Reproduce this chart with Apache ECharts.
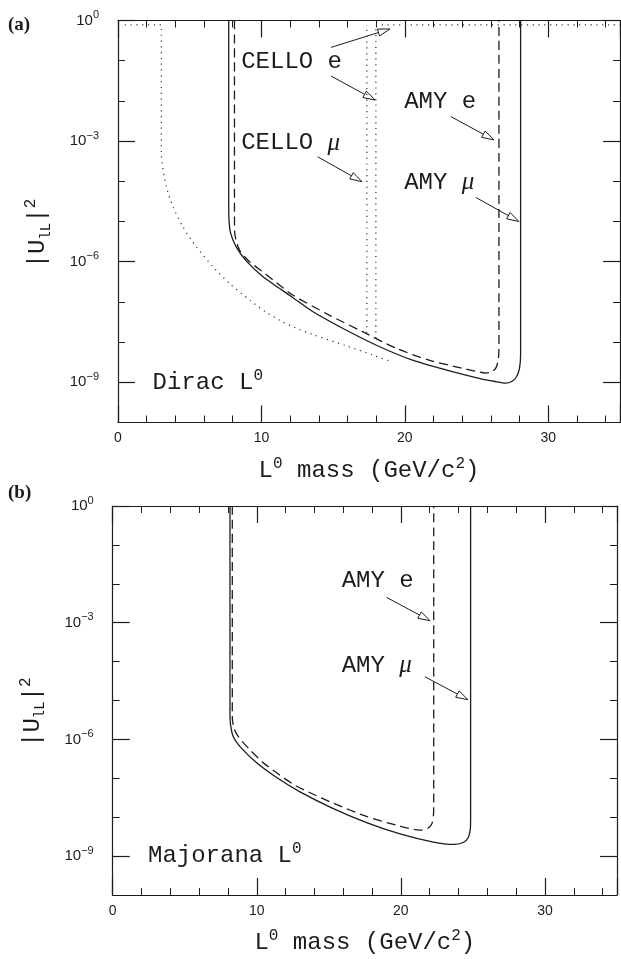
<!DOCTYPE html>
<html>
<head>
<meta charset="utf-8">
<title>L0 mixing limits</title>
<script src="https://cdn.jsdelivr.net/npm/echarts@6/dist/echarts.min.js"></script>
<style>
  html, body { margin: 0; padding: 0; background: #fff; }
  #chart { width: 621px; height: 959px; }
</style>
</head>
<body>
<div id="chart"></div>
<script>
// x: L0 mass (GeV/c^2), y: log10 |U_lL|^2
const xTicks = [0, 10, 20, 30];
const yTickExps = [0, -3, -6, -9];

// (a) Dirac L0
const diracAmyMu = [
  [7.72, 0], [7.72, -4.6], [7.74, -4.96], [7.85, -5.29], [8.24, -5.63], [8.94, -5.98],
  [10.09, -6.37], [11.25, -6.66], [12.18, -6.89], [13.57, -7.24], [15.89, -7.70],
  [18.21, -8.11], [20.53, -8.45], [22.85, -8.69], [25.17, -8.90], [26.3, -8.98],
  [27.03, -9.02], [27.45, -8.98], [27.75, -8.88], [27.98, -8.68], [28.07, -8.3], [28.07, 0]
];
const diracAmyE = [
  [8.12, 0], [8.12, -4.9], [8.14, -5.29], [8.47, -5.71], [9.17, -6.0], [10.2, -6.28],
  [11.25, -6.58], [12.18, -6.83], [14.73, -7.33], [17.05, -7.74], [19.37, -8.15],
  [21.69, -8.45], [24.01, -8.65], [25.1, -8.74], [25.64, -8.77], [26.05, -8.74],
  [26.35, -8.64], [26.51, -8.45], [26.56, -8.1], [26.56, 0]
];
const diracCelloLow = [
  [0.47, -0.11], [3.02, -0.11], [3.02, -3.3], [3.37, -4.13], [3.83, -4.63], [4.52, -5.13],
  [5.46, -5.63], [6.61, -6.12], [7.77, -6.54], [9.17, -6.95], [10.33, -7.26], [11.5, -7.50],
  [12.6, -7.68], [13.57, -7.81], [15.89, -8.09], [17.75, -8.32], [19.03, -8.49]
];
const diracCelloE = [[17.98, -7.9], [17.98, -0.11], [35, -0.11]];
const diracCelloMu = [[17.35, -7.77], [17.35, -0.11]];

// (b) Majorana L0
const majoranaAmyMu = [
  [8.14, 0], [8.14, -5.3], [8.18, -5.62], [8.37, -5.93], [8.95, -6.23], [9.99, -6.6],
  [11.38, -6.98], [13.0, -7.35], [15.2, -7.76], [17.62, -8.14], [19.94, -8.43],
  [22.25, -8.64], [23.64, -8.7], [24.33, -8.65], [24.68, -8.52], [24.82, -8.3],
  [24.84, -8.0], [24.84, 0]
];
const majoranaAmyE = [
  [8.3, 0], [8.3, -5.4], [8.4, -5.7], [8.72, -5.93], [9.53, -6.27], [10.45, -6.6],
  [11.49, -6.89], [12.65, -7.18], [13.81, -7.39], [15.31, -7.64], [17.62, -7.98],
  [19.94, -8.23], [21.33, -8.33], [21.85, -8.29], [22.15, -8.17], [22.26, -7.95],
  [22.28, -7.7], [22.28, 0]
];

const ink = '#1c1c1c';
const mono = '"Liberation Mono", "DejaVu Sans Mono", monospace';
const sans = '"Liberation Sans", Arial, sans-serif';
const serif = '"Liberation Serif", serif';

const titleRich = {
  s: { fontFamily: mono, fontSize: 16, lineHeight: 22, verticalAlign: 'top', color: ink },
  u: { fontFamily: mono, fontSize: 14, lineHeight: 18, verticalAlign: 'bottom', color: ink },
  mu: { fontFamily: serif, fontStyle: 'italic', fontSize: 25, lineHeight: 30, color: ink }
};

function expLabel(v) {
  return '10{s|' + (v < 0 ? '\u2212' + (-v) : v) + '}';
}

function xAxes(g) {
  const common = {
    gridIndex: g, type: 'value', min: 0, max: 35,
    splitLine: { show: false }
  };
  const line = { onZero: false, lineStyle: { color: ink, width: 1.2 } };
  const noLine = { show: false, onZero: false };
  return [
    Object.assign({}, common, {
      position: 'bottom', interval: 10, axisLine: line,
      axisTick: { inside: true, length: 17, lineStyle: { color: ink, width: 1.2 } },
      axisLabel: { customValues: xTicks, margin: 9, fontFamily: sans, fontSize: 14, color: ink },
      name: 'L{s|0} mass (GeV/c{s|2})', nameLocation: 'middle', nameGap: 33,
      nameTextStyle: { fontFamily: mono, fontSize: 24, lineHeight: 30, color: ink, rich: titleRich }
    }),
    Object.assign({}, common, {
      position: 'bottom', interval: 2, axisLine: noLine,
      axisTick: { inside: true, length: 7, lineStyle: { color: ink, width: 1 } },
      axisLabel: { show: false }
    }),
    Object.assign({}, common, {
      position: 'top', interval: 10, axisLine: line,
      axisTick: { inside: true, length: 17, lineStyle: { color: ink, width: 1.2 } },
      axisLabel: { show: false }
    }),
    Object.assign({}, common, {
      position: 'top', interval: 2, axisLine: noLine,
      axisTick: { inside: true, length: 7, lineStyle: { color: ink, width: 1 } },
      axisLabel: { show: false }
    })
  ];
}

function yAxes(g) {
  const common = {
    gridIndex: g, type: 'value', min: -10, max: 0,
    splitLine: { show: false }
  };
  const line = { onZero: false, lineStyle: { color: ink, width: 1.2 } };
  const noLine = { show: false, onZero: false };
  return [
    Object.assign({}, common, {
      position: 'left', interval: 1, axisLine: line,
      axisTick: { customValues: yTickExps, inside: true, length: 17, lineStyle: { color: ink, width: 1.2 } },
      axisLabel: {
        customValues: yTickExps, margin: 19, formatter: expLabel,
        fontFamily: sans, fontSize: 15, lineHeight: 22, color: ink,
        rich: { s: { fontFamily: sans, fontSize: 11, lineHeight: 10, verticalAlign: 'top', color: ink } }
      }
    }),
    Object.assign({}, common, {
      position: 'left', interval: 1, axisLine: noLine,
      axisTick: { inside: true, length: 7, lineStyle: { color: ink, width: 1 } },
      axisLabel: { show: false }
    }),
    Object.assign({}, common, {
      position: 'right', interval: 1, axisLine: line,
      axisTick: { customValues: yTickExps, inside: true, length: 17, lineStyle: { color: ink, width: 1.2 } },
      axisLabel: { show: false }
    }),
    Object.assign({}, common, {
      position: 'right', interval: 1, axisLine: noLine,
      axisTick: { inside: true, length: 7, lineStyle: { color: ink, width: 1 } },
      axisLabel: { show: false }
    })
  ];
}

const solid = { color: ink, width: 1.3, type: 'solid' };
const dashed = { color: ink, width: 1.3, type: [9, 5] };
const dotted = { color: '#333', width: 1.2, type: [1.2, 4.6] };

function curve(name, data, g, style) {
  return {
    name: name, type: 'line', data: data,
    xAxisIndex: g * 4, yAxisIndex: g * 4,
    showSymbol: false, symbol: 'none', smooth: 0.25,
    lineStyle: style, silent: true
  };
}

const chart = echarts.init(document.getElementById('chart'), null, { renderer: 'canvas' });

chart.setOption({
  animation: false,
  backgroundColor: '#fff',
  grid: [
    { left: 118, top: 20.5, width: 502, height: 402 },
    { left: 112.7, top: 506, width: 504.3, height: 400 }
  ],
  xAxis: xAxes(0).concat(xAxes(1)),
  yAxis: yAxes(0).concat(yAxes(1)),
  series: [
    curve('AMY mu (Dirac)', diracAmyMu, 0, solid),
    curve('AMY e (Dirac)', diracAmyE, 0, dashed),
    curve('CELLO (Dirac)', diracCelloLow, 0, dotted),
    curve('CELLO e (Dirac)', diracCelloE, 0, dotted),
    curve('CELLO mu (Dirac)', diracCelloMu, 0, dotted),
    curve('AMY mu (Majorana)', majoranaAmyMu, 1, solid),
    curve('AMY e (Majorana)', majoranaAmyE, 1, dashed)
  ]
});

// annotations, placed in data coordinates of each panel
const notes = [
  { g: 0, at: [8.59, -1.03], text: 'CELLO e' },
  { g: 0, at: [8.59, -3.05], text: 'CELLO {mu|\u03bc}' },
  { g: 0, at: [19.95, -2.03], text: 'AMY e' },
  { g: 0, at: [19.95, -4.04], text: 'AMY {mu|\u03bc}' },
  { g: 0, at: [2.41, -9.02], text: 'Dirac L{s|0}' },
  { g: 1, at: [15.89, -1.93], text: 'AMY e' },
  { g: 1, at: [15.89, -4.1], text: 'AMY {mu|\u03bc}' },
  { g: 1, at: [2.45, -9.0], text: 'Majorana L{s|0}' }
];
const arrows = [
  { g: 0, from: [14.85, -0.67], to: [18.96, -0.21] },
  { g: 0, from: [14.85, -1.38], to: [17.93, -1.98] },
  { g: 0, from: [13.92, -3.39], to: [17.01, -4.01] },
  { g: 0, from: [23.2, -2.39], to: [26.21, -2.97] },
  { g: 0, from: [24.94, -4.40], to: [27.95, -5.0] },
  { g: 1, from: [19.01, -2.35], to: [22.03, -2.95] },
  { g: 1, from: [21.67, -4.39], to: [24.66, -4.98] }
];

function px(g, p) {
  return chart.convertToPixel({ xAxisIndex: g * 4, yAxisIndex: g * 4 }, p);
}

const graphics = [
  { type: 'text', x: 8, y: 25, style: { text: '(a)', fontFamily: serif, fontWeight: 'bold', fontSize: 19, fill: ink, verticalAlign: 'middle' } },
  { type: 'text', x: 8, y: 493, style: { text: '(b)', fontFamily: serif, fontWeight: 'bold', fontSize: 19, fill: ink, verticalAlign: 'middle' } }
];

// rotated y titles, a little below the middle of each axis as in the figure
[0, 1].forEach(g => {
  const p = px(g, [0, -5.3]);
  graphics.push({
    type: 'text', x: p[0] - 80, y: p[1], rotation: Math.PI / 2, silent: true,
    style: {
      text: '|U{u|lL}|{s|2}', fontFamily: mono, fontSize: 24, lineHeight: 30, fill: ink,
      align: 'center', verticalAlign: 'middle', rich: titleRich
    }
  });
});

notes.forEach(n => {
  const p = px(n.g, n.at);
  graphics.push({
    type: 'text', x: p[0], y: p[1], silent: true,
    style: {
      text: n.text, fontFamily: mono, fontSize: 24, lineHeight: 30, fill: ink,
      align: 'left', verticalAlign: 'middle', rich: titleRich
    }
  });
});

arrows.forEach(a => {
  const p0 = px(a.g, a.from);
  const p1 = px(a.g, a.to);
  const dx = p1[0] - p0[0], dy = p1[1] - p0[1];
  const len = Math.sqrt(dx * dx + dy * dy);
  const ux = dx / len, uy = dy / len;
  const head = 12, half = 3.6;
  const bx = p1[0] - ux * head, by = p1[1] - uy * head;
  graphics.push({
    type: 'line', silent: true,
    shape: { x1: p0[0], y1: p0[1], x2: bx, y2: by },
    style: { stroke: ink, lineWidth: 1 }
  });
  graphics.push({
    type: 'polygon', silent: true,
    shape: { points: [[p1[0], p1[1]], [bx - uy * half, by + ux * half], [bx + uy * half, by - ux * half]] },
    style: { fill: '#fff', stroke: ink, lineWidth: 1 }
  });
});

chart.setOption({ graphic: graphics });
</script>
</body>
</html>
